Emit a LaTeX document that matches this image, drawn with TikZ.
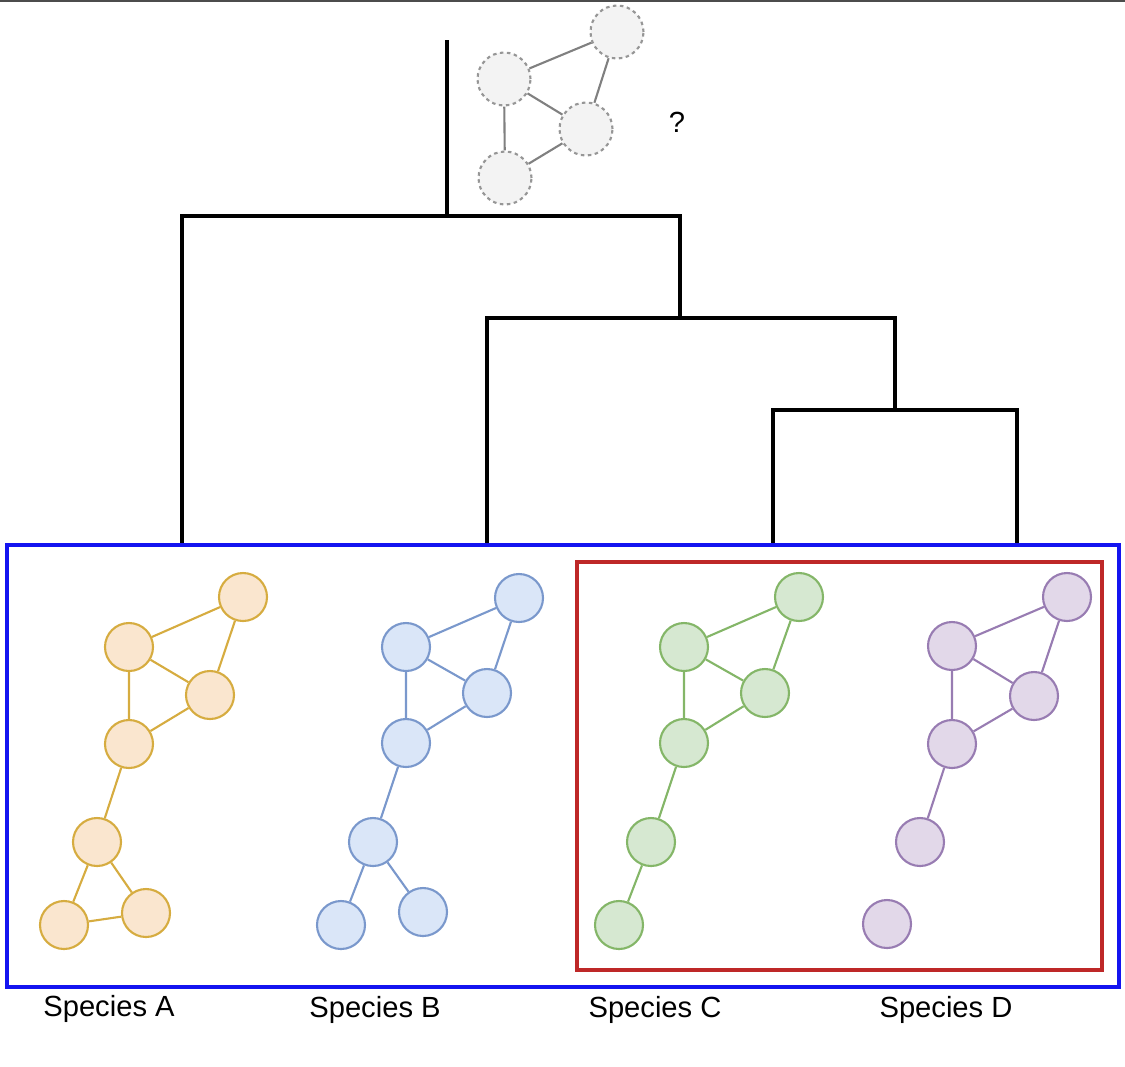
\documentclass[tikz,border=0pt]{standalone}
\usepackage{fontspec}
\setmainfont{Liberation Sans}
\definecolor{oF}{RGB}{250,230,207}\definecolor{oD}{RGB}{214,172,64}
\definecolor{bF}{RGB}{218,230,248}\definecolor{bD}{RGB}{122,152,204}
\definecolor{gF}{RGB}{214,232,209}\definecolor{gD}{RGB}{132,182,104}
\definecolor{pF}{RGB}{226,216,233}\definecolor{pD}{RGB}{152,124,178}
\definecolor{qF}{RGB}{243,243,243}\definecolor{qD}{RGB}{150,150,150}
\definecolor{boxblue}{RGB}{20,20,240}\definecolor{boxred}{RGB}{190,40,40}
\tikzset{
 nd/.style={circle,minimum size=48\pgflinewidth,inner sep=0pt,line width=1.2pt},
 nd/.style={circle,minimum size=0.96cm,inner sep=0pt,line width=1.2pt},
 on/.style={nd,fill=oF,draw=oD}, oe/.style={draw=oD,line width=1.2pt},
 bn/.style={nd,fill=bF,draw=bD}, be/.style={draw=bD,line width=1.2pt},
 gn/.style={nd,fill=gF,draw=gD}, ge/.style={draw=gD,line width=1.2pt},
 pn/.style={nd,fill=pF,draw=pD}, pe/.style={draw=pD,line width=1.2pt},
 qn/.style={circle,minimum size=1.06cm,inner sep=0pt,line width=1.2pt,fill=qF,draw=qD,dash pattern=on 2pt off 2pt},
 qe/.style={draw=qD!85!black,line width=1.2pt},
 tree/.style={line width=2.3pt,black},
 lbl/.style={font=\fontsize{16.6}{20}\selectfont,inner sep=0pt}
}
\begin{document}
\begin{tikzpicture}[x=0.02cm,y=-0.02cm]
\useasboundingbox (0,0) rectangle (1125,1066);
\draw[line width=1.2pt,black!70] (0,1) -- (1125,1);
% tree
\coordinate (r0) at (447,40);
\coordinate (r1) at (447,216);
\draw[tree] (r0) -- (r1);
\draw[tree] (182,545) -- (182,216) -- (680,216) -- (680,318);
\draw[tree] (487,545) -- (487,318) -- (895,318) -- (895,410);
\draw[tree] (773,545) -- (773,410) -- (1017,410) -- (1017,545);
% boxes
\draw[boxblue,line width=2.3pt] (7,545) rectangle (1119,987);
\draw[boxred,line width=2.3pt] (577,562) rectangle (1102,970);
% ancestor
\node[qn] (g1) at (617,32) {};
\node[qn] (g2) at (504,79) {};
\node[qn] (g3) at (586,129) {};
\node[qn] (g4) at (505,178) {};
\draw[qe] (g1)--(g2) (g1)--(g3) (g2)--(g3) (g2)--(g4) (g3)--(g4);
\node[lbl] (qm) at (677,122) {?};
% species A
\node[on] (a1) at (243,597) {};
\node[on] (a2) at (129,647) {};
\node[on] (a3) at (210,695) {};
\node[on] (a4) at (129,744) {};
\node[on] (a5) at (97,842) {};
\node[on] (a6) at (64,925) {};
\node[on] (a7) at (146,913) {};
\draw[oe] (a1)--(a2) (a1)--(a3) (a2)--(a3) (a2)--(a4) (a3)--(a4) (a4)--(a5) (a5)--(a6) (a5)--(a7) (a6)--(a7);
% species B
\node[bn] (b1) at (519,598) {};
\node[bn] (b2) at (406,647) {};
\node[bn] (b3) at (487,693) {};
\node[bn] (b4) at (406,743) {};
\node[bn] (b5) at (373,842) {};
\node[bn] (b6) at (341,925) {};
\node[bn] (b7) at (423,912) {};
\draw[be] (b1)--(b2) (b1)--(b3) (b2)--(b3) (b2)--(b4) (b3)--(b4) (b4)--(b5) (b5)--(b6) (b5)--(b7);
% species C
\node[gn] (c1) at (799,597) {};
\node[gn] (c2) at (684,647) {};
\node[gn] (c3) at (765,693) {};
\node[gn] (c4) at (684,743) {};
\node[gn] (c5) at (651,842) {};
\node[gn] (c6) at (619,925) {};
\draw[ge] (c1)--(c2) (c1)--(c3) (c2)--(c3) (c2)--(c4) (c3)--(c4) (c4)--(c5) (c5)--(c6);
% species D
\node[pn] (d1) at (1067,597) {};
\node[pn] (d2) at (952,646) {};
\node[pn] (d3) at (1034,696) {};
\node[pn] (d4) at (952,744) {};
\node[pn] (d5) at (920,842) {};
\node[pn] (d6) at (887,924) {};
\draw[pe] (d1)--(d2) (d1)--(d3) (d2)--(d3) (d2)--(d4) (d3)--(d4) (d4)--(d5);
% labels
\node[lbl] (la) at (109,1009) {Species A};
\node[lbl] (lb) at (375,1010) {Species B};
\node[lbl] (lc) at (655,1010) {Species C};
\node[lbl] (ld) at (946,1010) {Species D};
\end{tikzpicture}
\end{document}
